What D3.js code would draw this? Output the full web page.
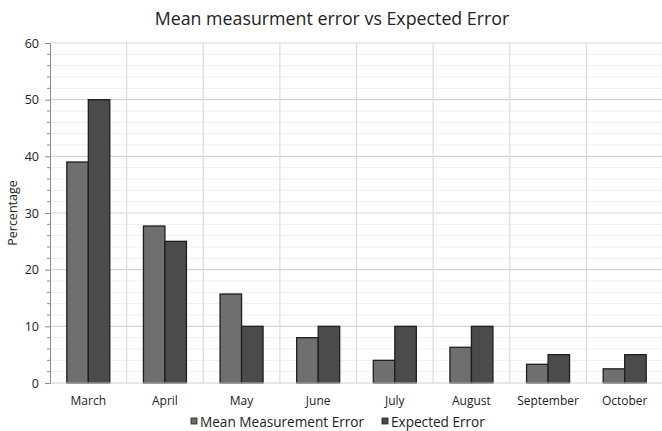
<!DOCTYPE html>
<html><head><meta charset="utf-8">
<script src="https://cdn.jsdelivr.net/npm/d3@7"></script>
<style>body{margin:0;background:#fff}svg{display:block}text{font-family:"Open Sans",sans-serif}</style>
</head><body>
<svg id="c" width="662" height="431"></svg>
<script>
const categories = ["March","April","May","June","July","August","September","October"];
const meanError = [39, 27.7, 15.7, 8, 4, 6.3, 3.3, 2.5];
const expectedError = [50, 25, 10, 10, 10, 10, 5, 5];
const seriesNames = ["Mean Measurement Error","Expected Error"];
const seriesColors = ["#6f6f6f","#4b4b4b"];
const yTicks = [0,10,20,30,40,50,60];

const svg = d3.select("#c");
const m = {l:50, r:-1, t:43, b:48};
const W = 662, H = 431;
const x = d3.scaleBand().domain(categories).range([m.l, W - m.r]).padding(0);
const y = d3.scaleLinear().domain([0,60]).range([383, 43]);
const bw = 21.5;

svg.append("rect").attr("width",W).attr("height",H).attr("fill","#fff");

const minor = d3.range(0,61,2).filter(v => v % 10 !== 0);
svg.append("g").selectAll("line").data(minor).join("line")
  .attr("x1", m.l).attr("x2", W).attr("y1", d=>y(d)).attr("y2", d=>y(d))
  .attr("stroke","#efefef").attr("stroke-width",1);
svg.append("g").selectAll("line").data(yTicks.slice(1)).join("line")
  .attr("x1", m.l).attr("x2", W).attr("y1", d=>y(d)).attr("y2", d=>y(d))
  .attr("stroke","#d6d6d6").attr("stroke-width",1.2);
svg.append("g").selectAll("line").data(categories.slice(1)).join("line")
  .attr("x1", d=>x(d)).attr("x2", d=>x(d)).attr("y1", y(60)).attr("y2", y(0))
  .attr("stroke","#dcdcdc").attr("stroke-width",1.2);

const data = categories.map((c,i)=>({c, v:[meanError[i], expectedError[i]]}));
const g = svg.append("g");
data.forEach(d => {
  d.v.forEach((v,k) => {
    const cx = x(d.c) + x.bandwidth()/2;
    g.append("rect")
      .attr("x", cx - bw + k*bw).attr("y", y(v))
      .attr("width", bw).attr("height", y(0) - y(v))
      .attr("fill", seriesColors[k]).attr("stroke","#1e1e1e").attr("stroke-width",1.3);
  });
});

svg.append("line").attr("x1", m.l).attr("x2", W).attr("y1", y(0)).attr("y2", y(0))
  .attr("stroke","#d0d0d0").attr("stroke-width",1.2);

const ya = svg.append("g").attr("transform",`translate(${m.l},0)`)
  .call(d3.axisLeft(y).tickValues(yTicks).tickSize(5).tickPadding(6));
ya.select(".domain").attr("stroke","#8a8a8a");
ya.selectAll(".tick line").attr("stroke","#8a8a8a");
ya.selectAll(".tick text").attr("font-size",12.5).attr("fill","#222");
svg.append("g").selectAll("line").data(minor).join("line")
  .attr("x1", m.l-3).attr("x2", m.l).attr("y1", d=>y(d)).attr("y2", d=>y(d))
  .attr("stroke","#8a8a8a");

svg.append("g").selectAll("text").data(categories).join("text")
  .attr("x", d=>x(d)+x.bandwidth()/2).attr("y", 404.5)
  .attr("text-anchor","middle").attr("font-size",12).attr("fill","#222").text(d=>d);

svg.append("text").attr("transform","translate(17,213) rotate(-90)")
  .attr("text-anchor","middle").attr("font-size",12.5).attr("fill","#222").text("Percentage");

svg.append("text").attr("x",332).attr("y",25).attr("text-anchor","middle")
  .attr("font-size",17.8).attr("fill","#222").text("Mean measurment error vs Expected Error");

const leg = [{x:191, i:0},{x:382, i:1}];
leg.forEach(l => {
  svg.append("rect").attr("x", l.x).attr("y", 418).attr("width",6).attr("height",6)
    .attr("fill", seriesColors[l.i]).attr("stroke","#1e1e1e").attr("stroke-width",0.8);
  svg.append("text").attr("x", l.x+9).attr("y", 427).attr("font-size",13.6)
    .attr("fill","#222").text(seriesNames[l.i]);
});
</script>
</body></html>
